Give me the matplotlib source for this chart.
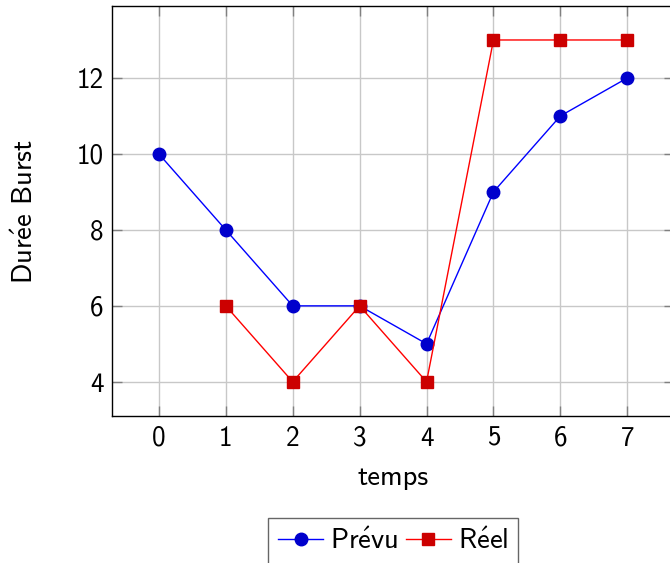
import matplotlib.pyplot as plt

# data
temps_prevu = [0, 1, 2, 3, 4, 5, 6, 7]
duree_prevu = [10, 8, 6, 6, 5, 9, 11, 12]
temps_reel = [1, 2, 3, 4, 5, 6, 7]
duree_reel = [6, 4, 6, 4, 13, 13, 13]
x_ticks = [0, 1, 2, 3, 4, 5, 6, 7]
y_ticks = [4, 6, 8, 10, 12]

plt.rcParams['font.family'] = ['cmss10', 'DejaVu Sans']
plt.rcParams['axes.unicode_minus'] = False
plt.rcParams['mathtext.fontset'] = 'custom'
plt.rcParams['mathtext.rm'] = 'cmss10'
plt.rcParams['mathtext.sf'] = 'cmss10'
plt.rcParams['mathtext.fallback'] = 'cm'

fig = plt.figure(figsize=(6.7, 5.63), dpi=100)
ax0 = fig.add_axes([0.1672, 0.2611, 0.839, 0.7286])

ax0.plot(temps_prevu, duree_prevu, color="#0000ff", linewidth=1.0, marker="o",
         markersize=9, markerfacecolor="#0000cc", markeredgecolor="#0000cc",
         label=r"$\mathrm{Pr\acute{e}vu}$", zorder=3)
ax0.plot(temps_reel, duree_reel, color="#ff0000", linewidth=1.0, marker="s",
         markersize=8, markerfacecolor="#cc0000", markeredgecolor="#cc0000",
         label=r"$\mathrm{R\acute{e}el}$", zorder=3)

ax0.set_xlim(-0.7, 7.7)
ax0.set_ylim(3.1, 13.9)
ax0.set_xticks(x_ticks)
ax0.set_yticks(y_ticks)
ax0.grid(True, color="#c8c8c8", linewidth=1.0)
ax0.set_axisbelow(True)

ax0.tick_params(direction="in", length=7, width=1.0, color="#808080",
                top=True, right=True, labelsize=19.5)
ax0.tick_params(axis="x", pad=7)
ax0.tick_params(axis="y", pad=6)
for side in ax0.spines.values():
    side.set_linewidth(1.0)
    side.set_color("black")

ax0.set_xlabel("temps", fontsize=20.5, labelpad=10)
ax0.set_ylabel(r"$\mathrm{Dur\acute{e}e\ Burst}$", fontsize=20.5, labelpad=28)

leg = ax0.legend(loc="upper center", bbox_to_anchor=(0.5, -0.248), ncol=2,
                 fontsize=20.5, frameon=True, fancybox=False, edgecolor="#404040",
                 handlelength=1.6, handletextpad=0.25, columnspacing=0.25,
                 borderpad=0.35, borderaxespad=0)
leg.get_frame().set_linewidth(1.0)

plt.savefig("out.png", dpi=100)
